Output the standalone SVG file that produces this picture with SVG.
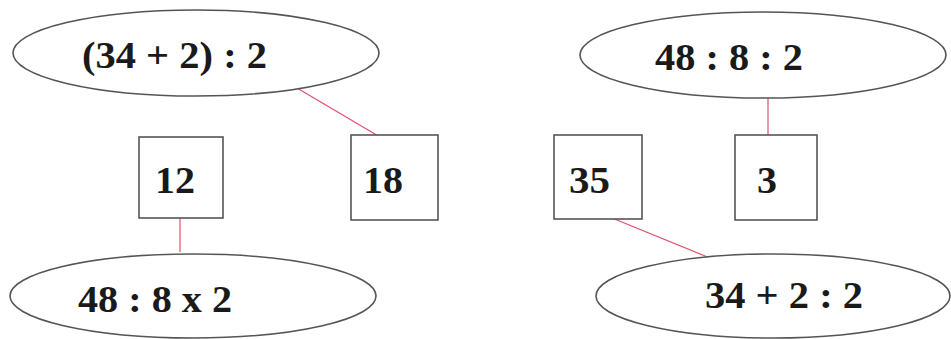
<svg xmlns="http://www.w3.org/2000/svg" width="951" height="339" viewBox="0 0 951 339">
<style>
.sh{fill:#ffffff;stroke:#555555;stroke-width:1.6}
.t{font-family:"Liberation Serif","Times New Roman",serif;font-weight:bold;font-size:37px;fill:#1a1a1a}
.c{stroke:#e0506a;stroke-width:1.2;fill:none}
</style>
<rect width="951" height="339" fill="#ffffff"/>
<g id="connectors">
<line class="c" x1="297" y1="88" x2="380" y2="137"/>
<line class="c" x1="768" y1="97" x2="768" y2="135"/>
<line class="c" x1="180" y1="218" x2="180" y2="252"/>
<line class="c" x1="612" y1="218" x2="710" y2="258"/>
</g>
<g id="e1">
<ellipse class="sh" cx="196" cy="53" rx="183" ry="43"/>
<text class="t" x="82" y="68" textLength="185" lengthAdjust="spacingAndGlyphs">(34 + 2) : 2</text>
</g>
<g id="e2">
<ellipse class="sh" cx="763" cy="55" rx="183" ry="43"/>
<text class="t" x="655" y="70" textLength="148" lengthAdjust="spacingAndGlyphs">48 : 8 : 2</text>
</g>
<g id="b12">
<rect class="sh" x="139" y="137" width="84" height="81"/>
<text class="t" x="155" y="193" textLength="40" lengthAdjust="spacingAndGlyphs">12</text>
</g>
<g id="b18">
<rect class="sh" x="351" y="135" width="87" height="85"/>
<text class="t" x="363" y="193" textLength="40" lengthAdjust="spacingAndGlyphs">18</text>
</g>
<g id="b35">
<rect class="sh" x="554" y="135" width="88" height="84"/>
<text class="t" x="569" y="193" textLength="41" lengthAdjust="spacingAndGlyphs">35</text>
</g>
<g id="b3">
<rect class="sh" x="735" y="135" width="82" height="85"/>
<text class="t" x="757" y="193" textLength="20" lengthAdjust="spacingAndGlyphs">3</text>
</g>
<g id="e3">
<ellipse class="sh" cx="193" cy="296" rx="183" ry="42"/>
<text class="t" x="78" y="312" textLength="154" lengthAdjust="spacingAndGlyphs">48 : 8 x 2</text>
</g>
<g id="e4">
<ellipse class="sh" cx="773" cy="296" rx="177" ry="42"/>
<text class="t" x="705" y="308" textLength="158" lengthAdjust="spacingAndGlyphs">34 + 2 : 2</text>
</g>
</svg>
